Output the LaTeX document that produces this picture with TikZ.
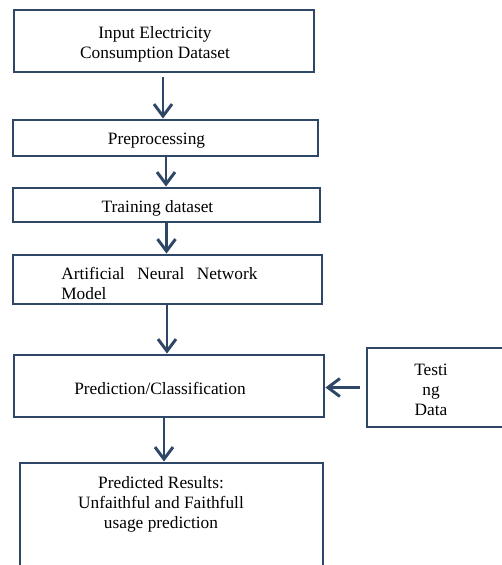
\documentclass[tikz,border=0pt]{standalone}
\usepackage{fontspec}
\setmainfont{Liberation Serif}
\usetikzlibrary{arrows.meta,calc}
\definecolor{boxblue}{HTML}{2E4766}
\tikzset{>={Straight Barb[length=9pt,width=13.5pt]}}
\tikzset{
  stage/.style={draw=boxblue,line width=2.2pt,fill=white,inner sep=0pt},
  flow/.style={->,draw=boxblue,line width=2.2pt},
  caption/.style={inner sep=0pt,font=\fontsize{13}{15}\selectfont,align=center}
}

\begin{document}
\begin{tikzpicture}[x=0.75pt,y=-0.75pt]
  \useasboundingbox (0,0) rectangle (502,565);
  % boxes
  \node[stage,minimum width=300*0.75pt,minimum height=62*0.75pt] (input) at (164,41) {};
  \node[stage,minimum width=305*0.75pt,minimum height=36*0.75pt] (prep) at (165.5,138) {};
  \node[stage,minimum width=307*0.75pt,minimum height=34*0.75pt] (train) at (166.5,205) {};
  \node[stage,minimum width=309*0.75pt,minimum height=49*0.75pt] (ann) at (167.5,279.5) {};
  \node[stage,minimum width=310*0.75pt,minimum height=62*0.75pt] (pred) at (169,386) {};
  \node[stage,minimum width=138*0.75pt,minimum height=79*0.75pt] (test) at (436,387.5) {};
  \node[stage,minimum width=303*0.75pt,minimum height=114*0.75pt] (result) at (171.5,520) {};
  % texts
  \node[caption] (inputtext) at ($(input)+(-9,3)$) {Input Electricity\\Consumption Dataset};
  \node[caption] (preptext) at ($(prep)+(-9,3)$) {Preprocessing};
  \node[caption] (traintext) at ($(train)+(-9,3)$) {Training dataset};
  \node[caption,anchor=west,align=left] (anntext) at (61,283)
    {Artificial\hspace{0.72em}Neural\hspace{0.72em}Network\\Model};
  \node[caption] (predtext) at ($(pred)+(-9,2)$) {Prediction/Classification};
  \node[caption] (testtext) at ($(test)+(-5,2)$) {Testi\\ng\\Data};
  \node[caption,anchor=north] (resulttext) at (161,476)
    {Predicted Results:\\Unfaithful and Faithfull\\usage prediction};
  % arrows
  \draw[flow,shorten <=4pt] (163,72) coordinate (a1) -- (a1 |- prep.north);
  \draw[flow] (166,156) coordinate (a2) -- (a2 |- train.north);
  \draw[flow] (166.5,222) coordinate (a3) -- (a3 |- ann.north);
  \draw[flow] (167,304) coordinate (a4) -- (a4 |- pred.north);
  \draw[flow,shorten <=4.5pt] (test.west) -- (test.west -| pred.east);
  \draw[flow] (164,417) coordinate (a5) -- (a5 |- result.north);
\end{tikzpicture}
\end{document}
